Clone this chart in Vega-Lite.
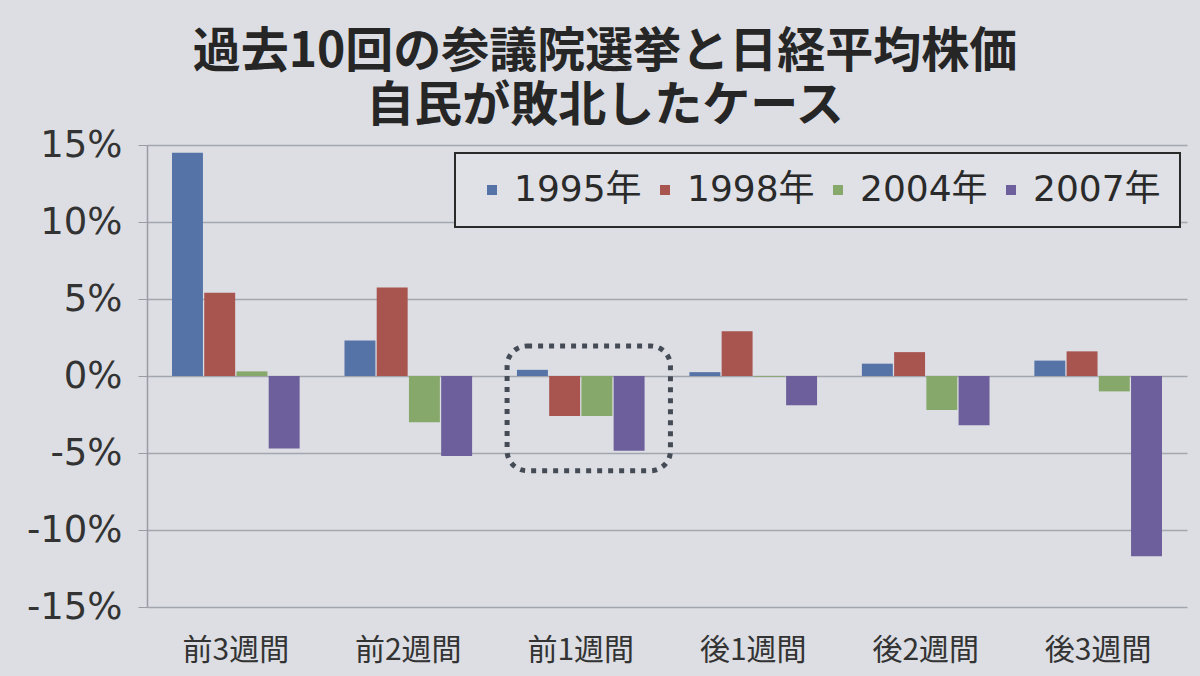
{
  "$schema": "https://vega.github.io/schema/vega-lite/v6.json",
  "autosize": "none",
  "width": 1040,
  "height": 462,
  "padding": {"left": 147, "top": 145, "right": 13, "bottom": 69},
  "background": "#dcdee4",
  "config": {
    "font": "Noto Sans CJK JP",
    "view": {"stroke": null},
    "axis": {"labelFont": "Noto Sans CJK JP", "labelColor": "#333333"}
  },
  "title": {
    "text": ["過去10回の参議院選挙と日経平均株価", "自民が敗北したケース"],
    "fontSize": 48,
    "fontWeight": "bold",
    "color": "#262626",
    "lineHeight": 54,
    "anchor": "middle",
    "frame": "group",
    "dx": -62,
    "offset": -5
  },
  "datasets": {
    "bars": [
      {"period": "前3週間", "year": "1995年", "value": 14.5},
      {"period": "前3週間", "year": "1998年", "value": 5.4},
      {"period": "前3週間", "year": "2004年", "value": 0.3},
      {"period": "前3週間", "year": "2007年", "value": -4.7},
      {"period": "前2週間", "year": "1995年", "value": 2.3},
      {"period": "前2週間", "year": "1998年", "value": 5.75},
      {"period": "前2週間", "year": "2004年", "value": -3.0},
      {"period": "前2週間", "year": "2007年", "value": -5.2},
      {"period": "前1週間", "year": "1995年", "value": 0.4},
      {"period": "前1週間", "year": "1998年", "value": -2.6},
      {"period": "前1週間", "year": "2004年", "value": -2.6},
      {"period": "前1週間", "year": "2007年", "value": -4.85},
      {"period": "後1週間", "year": "1995年", "value": 0.25},
      {"period": "後1週間", "year": "1998年", "value": 2.9},
      {"period": "後1週間", "year": "2004年", "value": -0.05},
      {"period": "後1週間", "year": "2007年", "value": -1.9},
      {"period": "後2週間", "year": "1995年", "value": 0.8},
      {"period": "後2週間", "year": "1998年", "value": 1.55},
      {"period": "後2週間", "year": "2004年", "value": -2.2},
      {"period": "後2週間", "year": "2007年", "value": -3.2},
      {"period": "後3週間", "year": "1995年", "value": 1.0},
      {"period": "後3週間", "year": "1998年", "value": 1.6},
      {"period": "後3週間", "year": "2004年", "value": -1.0},
      {"period": "後3週間", "year": "2007年", "value": -11.7}
    ],
    "highlight": [
      {"period": "前1週間", "top": 1.95, "bottom": -6.15}
    ]
  },
  "layer": [
    {
      "data": {"name": "bars"},
      "mark": {"type": "bar"},
      "encoding": {
        "x": {
          "field": "period",
          "type": "nominal",
          "sort": ["前3週間", "前2週間", "前1週間", "後1週間", "後2週間", "後3週間"],
          "scale": {"paddingInner": 0.26, "paddingOuter": 0.145},
          "axis": {
            "title": null,
            "labelAngle": 0,
            "labelFontSize": 30,
            "labelPadding": 28,
            "ticks": false,
            "domain": false,
            "labelColor": "#333333"
          }
        },
        "xOffset": {
          "field": "year",
          "type": "nominal",
          "sort": ["1995年", "1998年", "2004年", "2007年"],
          "scale": {"paddingInner": 0.04}
        },
        "y": {
          "field": "value",
          "type": "quantitative",
          "scale": {"domain": [-15, 15], "nice": false},
          "axis": {
            "title": null,
            "values": [-15, -10, -5, 0, 5, 10, 15],
            "labelExpr": "datum.value + '%'",
            "labelFont": "DejaVu Sans",
            "labelFontSize": 37,
            "labelPadding": 16,
            "tickSize": 9,
            "tickColor": "#9a9ca4",
            "gridColor": "#a4a6ae",
            "gridWidth": 1.5,
            "domainColor": "#9a9ca4",
            "domainWidth": 1.5
          }
        },
        "color": {
          "field": "year",
          "type": "nominal",
          "scale": {
            "domain": ["1995年", "1998年", "2004年", "2007年"],
            "range": ["#5673a8", "#a8544f", "#87a86b", "#6d5f9b"]
          },
          "legend": {
            "title": null,
            "orient": "none",
            "legendX": 308,
            "legendY": 8,
            "direction": "horizontal",
            "symbolType": "square",
            "symbolSize": 100,
            "symbolStrokeWidth": 0,
            "labelFont": "'DejaVu Sans', 'Noto Sans CJK JP'",
            "labelFontSize": 36,
            "labelColor": "#2a2a2a",
            "labelOffset": 4,
            "columnPadding": 5,
            "padding": 19,
            "strokeColor": "#2a2a2a",
            "fillColor": "#dfe1e6",
            "encode": {
              "legend": {
                "update": {
                  "strokeWidth": {"value": 2}
                }
              }
            }
          }
        }
      }
    },
    {
      "data": {"name": "highlight"},
      "mark": {
        "type": "bar",
        "fill": null,
        "fillOpacity": 0,
        "stroke": "#454b55",
        "strokeWidth": 5,
        "strokeDash": [5, 6],
        "cornerRadius": 20,
        "width": {"band": 1.28},
        "xOffset": 8
      },
      "encoding": {
        "x": {
          "field": "period",
          "type": "nominal",
          "sort": ["前3週間", "前2週間", "前1週間", "後1週間", "後2週間", "後3週間"]
        },
        "y": {"field": "top", "type": "quantitative"},
        "y2": {"field": "bottom"}
      }
    }
  ]
}
